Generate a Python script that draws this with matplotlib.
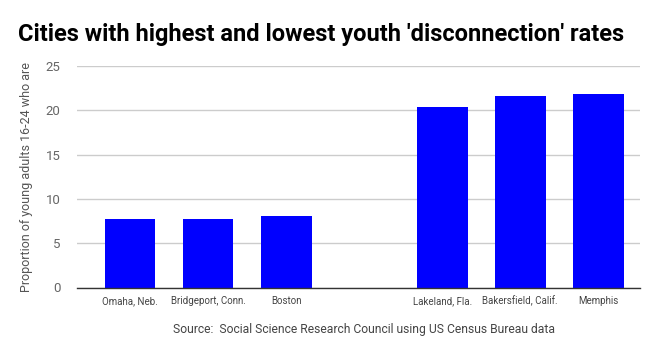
import matplotlib
matplotlib.use('Agg')
import matplotlib.pyplot as plt

plt.rcParams['font.family'] = ['Roboto', 'DejaVu Sans']

cities = ['Omaha, Neb.', 'Bridgeport, Conn.', 'Boston', '',
          'Lakeland, Fla.', 'Bakersfield, Calif.', 'Memphis']
rates = [7.7, 7.7, 8.1, 0, 20.4, 21.6, 21.8]
yticks = [0, 5, 10, 15, 20, 25]

W, H = 668, 356
fig = plt.figure(figsize=(W / 100, H / 100), dpi=100)
ax = fig.add_axes([77 / W, 1 - 287.5 / H, (640 - 77) / W, (287.5 - 66) / H])

pos = list(range(len(cities)))
ax.bar([p for p, v in zip(pos, rates) if v > 0], [v for v in rates if v > 0],
       width=0.65, color='#0000ff', zorder=3)

ax.set_xlim(-0.68, 6.534)
ax.set_ylim(0, 25)
ax.set_yticks(yticks)
ax.set_xticks([p for p, c in zip(pos, cities) if c])
ax.set_xticklabels([c for c in cities if c], fontsize=7, color='#444444')
ax.tick_params(axis='x', length=0, pad=6)
ax.tick_params(axis='y', length=0, pad=12, labelsize=9.5, labelcolor='#666666')
ax.grid(axis='y', color='#cccccc', linewidth=1, zorder=0)
for s in ['top', 'right', 'left']:
    ax.spines[s].set_visible(False)
ax.spines['bottom'].set_color('#333333')
ax.spines['bottom'].set_linewidth(1)
ax.spines['bottom'].set_zorder(4)

fig.text(27 / W, 1 - 177 / H, 'Proportion of young adults 16-24 who are',
         rotation=90, ha='center', va='center', fontsize=9, color='#555555')
fig.text(18 / W, 1 - 34 / H, "Cities with highest and lowest youth 'disconnection' rates",
         ha='left', va='center', fontsize=17, fontweight='bold', color='#000000')
fig.text(364 / W, 1 - 329 / H, 'Source:  Social Science Research Council using US Census Bureau data',
         ha='center', va='center', fontsize=8.7, color='#444444')

fig.savefig('out.png', dpi=100)
